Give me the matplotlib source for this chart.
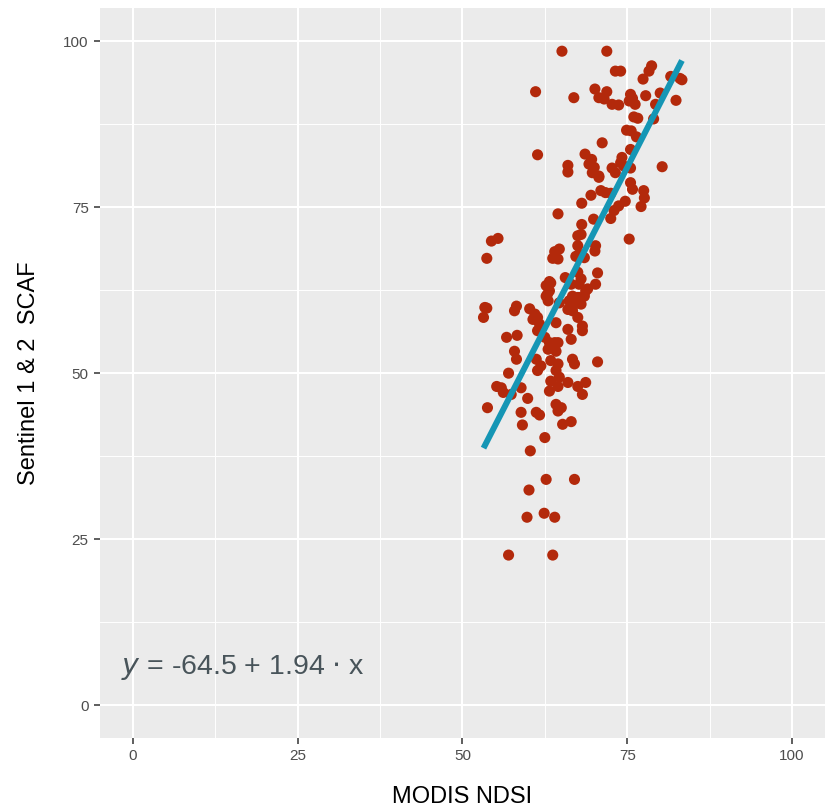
import numpy as np
import matplotlib.pyplot as plt

# MODIS NDSI vs Sentinel 1 & 2 SCAF
modis = [65.1, 71.9, 73.2, 74.0, 78.7, 78.3, 77.4, 81.6, 83.0, 83.3,
         61.1, 66.9, 70.1, 71.9, 70.7, 71.5, 72.7, 73.7, 75.5, 75.8,
         75.3, 76.2, 77.8, 80.0, 79.3, 82.4, 76.0, 76.6, 79.0, 74.9,
         75.6, 76.4, 71.2, 75.5, 61.4, 68.6, 69.6, 69.2, 70.0, 66.0,
         66.0, 74.2, 74.0, 74.5, 75.5, 72.7, 73.2, 80.3, 70.7,
         69.7, 70.7, 75.5, 75.8, 77.5, 77.6, 77.1, 71.0, 71.7, 72.5,
         69.5, 74.7, 73.7, 73.0, 68.1, 64.5, 72.5, 69.9, 68.1, 68.0,
         67.5, 75.3, 55.4, 54.4, 53.7, 64.7, 64.0, 63.7, 64.5, 67.5,
         67.7, 67.2, 68.5, 70.2, 70.1, 65.6, 67.5, 68.0, 67.7, 66.5,
         70.5, 70.2, 63.2, 62.7, 62.9, 69.0, 68.5, 67.5, 67.0, 53.4,
         58.2, 60.2,
         53.7, 53.2, 57.9, 61.0, 61.4, 60.7, 61.7, 63.0, 64.7, 66.2,
         67.0, 68.0, 66.7, 67.5, 68.2, 68.2, 66.0, 66.5, 64.2, 56.7,
         58.3, 61.4, 62.5, 63.2, 64.5, 64.2, 63.0, 57.9, 58.2, 61.2,
         61.9, 61.4, 63.4, 64.5, 64.2, 64.7, 66.7, 67.0, 70.5, 57.0,
         55.2, 55.9, 56.2, 57.4, 58.9, 63.4, 63.2, 64.5, 66.0, 67.5,
         68.7, 68.2, 59.9, 53.8, 58.9, 59.1, 61.2, 61.7, 64.2, 65.0,
         64.5, 65.2, 66.5, 62.5, 60.3, 62.7, 67.0, 60.1, 59.8, 62.4,
         64.0, 57.0, 63.7,
         66.7, 67.2, 67.7, 66.5, 66.0, 63.4, 63.2, 62.7, 68.7, 64.0]
scaf = [98.5, 98.5, 95.5, 95.5, 96.3, 95.5, 94.3, 94.7, 94.4, 94.2,
        92.4, 91.5, 92.8, 92.4, 91.5, 91.3, 90.5, 90.4, 92.0, 91.4,
        91.0, 90.5, 91.8, 92.2, 90.5, 91.1, 88.6, 88.4, 88.3, 86.6,
        86.5, 85.6, 84.7, 83.7, 82.9, 83.0, 82.2, 81.5, 81.0, 81.3,
        80.3, 82.5, 81.7, 81.2, 80.9, 80.9, 80.2, 81.1, 79.7,
        80.2, 79.5, 78.7, 77.7, 77.5, 76.4, 75.1, 77.5, 77.2, 77.1,
        76.8, 75.9, 75.2, 74.5, 75.6, 74.0, 73.3, 73.2, 72.4, 70.9,
        70.7, 70.2, 70.3, 69.9, 67.3, 68.7, 68.3, 67.3, 67.2, 69.2,
        67.9, 67.6, 67.4, 69.2, 68.4, 64.4, 65.2, 64.2, 63.4, 63.4,
        65.1, 63.4, 63.8, 63.2, 61.9, 62.7, 61.6, 61.4, 60.6, 59.9,
        60.1, 59.7,
        59.8, 58.4, 59.4, 58.9, 58.4, 58.1, 57.4, 60.9, 60.6, 60.9,
        60.4, 60.4, 59.4, 58.4, 57.1, 56.4, 56.6, 55.1, 57.6, 55.4,
        55.7, 56.4, 55.4, 54.6, 54.6, 53.3, 53.6, 53.3, 52.1, 52.1,
        51.1, 50.4, 51.9, 51.4, 50.4, 49.4, 52.1, 51.4, 51.7, 50.0,
        48.0, 47.8, 47.1, 46.8, 47.8, 48.8, 47.3, 48.0, 48.6, 48.0,
        48.6, 46.8, 46.2, 44.8, 44.1, 42.2, 44.1, 43.7, 45.3, 44.8,
        44.3, 42.3, 42.7, 40.3, 38.3, 34.0, 34.0, 32.4, 28.3, 28.9,
        28.3, 22.6, 22.6,
        61.6, 60.9, 61.4, 60.4, 59.6, 63.6, 62.4, 61.6, 62.4, 54.6]

intercept = -64.5
slope = 1.94

plt.rcParams['font.family'] = ['Liberation Sans', 'DejaVu Sans']

fig = plt.figure(figsize=(8.25, 8.06), dpi=100)
ax = fig.add_axes([0.121, 0.084, 0.879, 0.906])
ax.set_facecolor('#EBEBEB')

ax.scatter(modis, scaf, s=64, color='#B3290B', edgecolors='none', zorder=3)

xl = np.array([min(modis), max(modis)])
ax.plot(xl, intercept + slope * xl, color='#1596B5', lw=4.3,
        solid_capstyle='butt', zorder=4)

ax.text(-1.8, 5.6, r'$y$ = -64.5 + 1.94 $\cdot$ x', fontsize=20.5,
        color='#48545A', va='center', ha='left', zorder=5)

ax.set_xlim(-5, 105)
ax.set_ylim(-5, 105)
ticks = [0, 25, 50, 75, 100]
ax.set_xticks(ticks)
ax.set_yticks(ticks)
ax.set_xticks([12.5, 37.5, 62.5, 87.5], minor=True)
ax.set_yticks([12.5, 37.5, 62.5, 87.5], minor=True)
ax.grid(which='major', color='white', lw=1.5, zorder=0)
ax.grid(which='minor', color='white', lw=0.7, zorder=0)
ax.set_axisbelow(True)
for s in ax.spines.values():
    s.set_visible(False)
ax.tick_params(which='major', length=4, width=1.1, color='#333333',
               labelsize=11, labelcolor='#4D4D4D', pad=4)
ax.tick_params(which='minor', length=0)

ax.set_xlabel('MODIS NDSI', fontsize=17, labelpad=16)
ax.set_ylabel('Sentinel 1 & 2  SCAF', fontsize=17, labelpad=17)

fig.savefig('out.png', dpi=100)
